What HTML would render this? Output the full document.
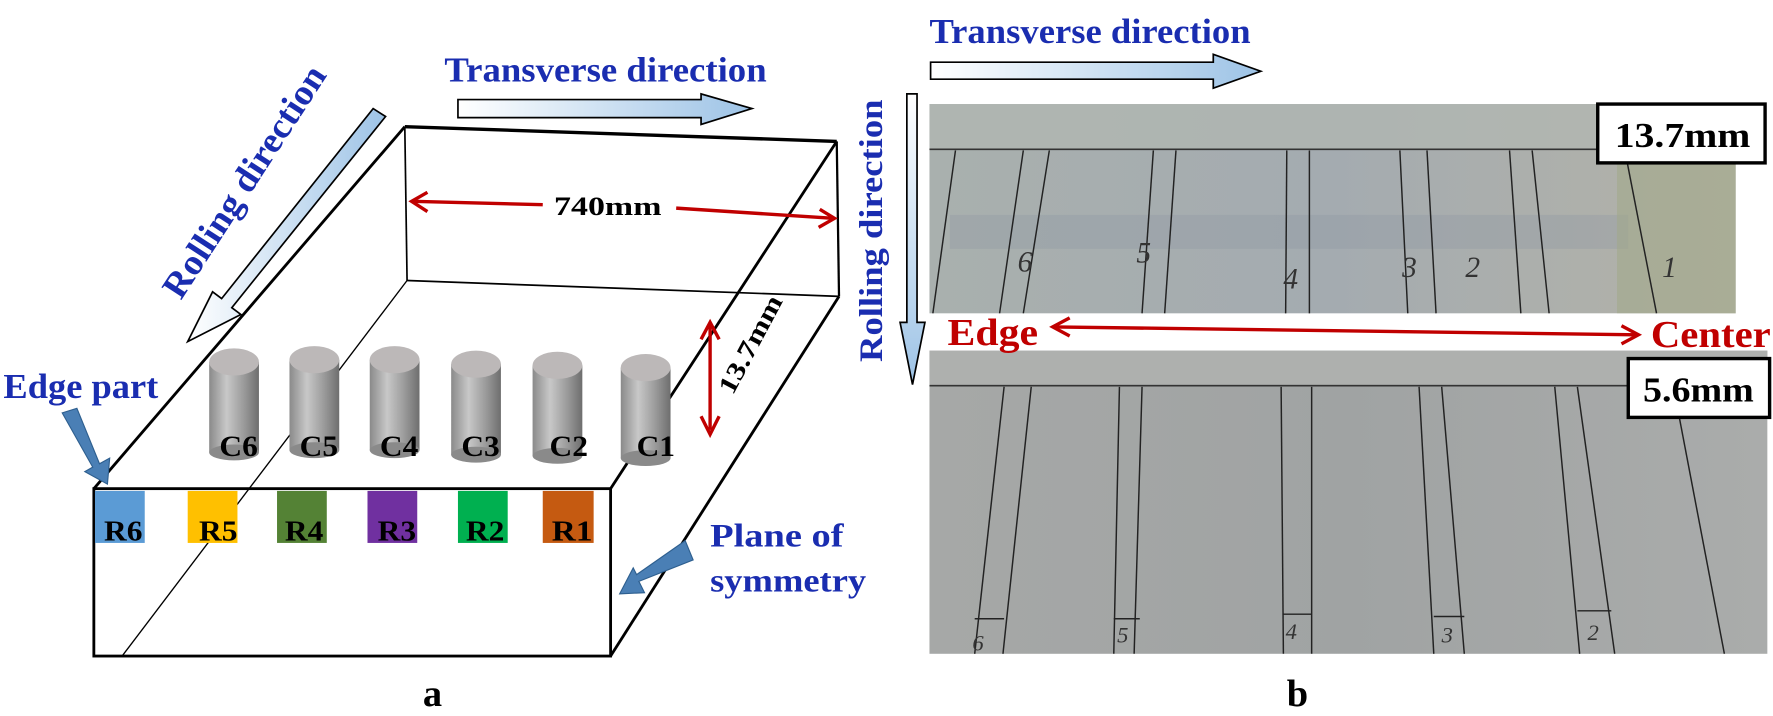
<!DOCTYPE html>
<html><head><meta charset="utf-8"><style>
html,body{margin:0;padding:0;background:#fff;}
svg{display:block;}
text{font-family:"Liberation Serif",serif;font-weight:bold;}
</style></head><body>
<svg width="1773" height="716" viewBox="0 0 1568 633" preserveAspectRatio="none" xmlns="http://www.w3.org/2000/svg">
<defs>
<linearGradient id="ga" x1="0" y1="0" x2="1" y2="0"><stop offset="0" stop-color="#fff"/><stop offset="1" stop-color="#9dc3e6"/></linearGradient>
<linearGradient id="gv" x1="0" y1="0" x2="0" y2="1"><stop offset="0" stop-color="#fff"/><stop offset="1" stop-color="#9dc3e6"/></linearGradient>
<linearGradient id="cyl" x1="0" y1="0" x2="1" y2="0"><stop offset="0" stop-color="#8a8a8a"/><stop offset="0.35" stop-color="#c8c8c8"/><stop offset="0.7" stop-color="#9a9a9a"/><stop offset="1" stop-color="#6e6e6e"/></linearGradient>
<linearGradient id="p1" x1="0" y1="0" x2="1" y2="0"><stop offset="0" stop-color="#a9b0ae"/><stop offset="0.5" stop-color="#a4abb0"/><stop offset="1" stop-color="#b4b3a8"/></linearGradient>
<linearGradient id="p2" x1="0" y1="0" x2="1" y2="0"><stop offset="0" stop-color="#a6a8a7"/><stop offset="0.5" stop-color="#a0a3a3"/><stop offset="1" stop-color="#aaacab"/></linearGradient>
</defs>

<text x="393" y="72" font-size="31" fill="#1a2db0" textLength="285" lengthAdjust="spacingAndGlyphs">Transverse direction</text>
<polygon points="405,88 620,88 620,83 665,96 620,110 620,104 405,104" fill="url(#ga)" stroke="#000" stroke-width="1.5"/>

<text x="0" y="0" font-size="32" fill="#1a2db0" transform="translate(160,266) rotate(-57)" textLength="238" lengthAdjust="spacingAndGlyphs">Rolling direction</text>
<polygon points="330,96 341,103 205,272 213,278 166,302 188,258 196,264" fill="url(#ga)" stroke="#000" stroke-width="1.5"/>

<g stroke="#000" fill="none">
<line x1="358" y1="112" x2="740" y2="125" stroke-width="3"/>
<line x1="358" y1="112" x2="360" y2="248" stroke-width="1.5"/>
<line x1="360" y1="248" x2="742" y2="262" stroke-width="1.5"/>
<line x1="740" y1="125" x2="742" y2="262" stroke-width="2"/>
<line x1="740" y1="125" x2="540" y2="432" stroke-width="2.5"/>
<line x1="742" y1="262" x2="540" y2="580" stroke-width="2.5"/>
<line x1="358" y1="112" x2="83" y2="432" stroke-width="2.5"/>
<line x1="360" y1="248" x2="108" y2="580" stroke-width="1.2"/>
<rect x="83" y="432" width="457" height="148" stroke-width="2.5"/>
</g>

<text x="490" y="190" font-size="23" fill="#000" textLength="95" lengthAdjust="spacingAndGlyphs">740mm</text>
<g stroke="#c00000" stroke-width="3" fill="none">
<line x1="365" y1="178" x2="480" y2="181"/>
<polyline points="378,170 364,178 378,187"/>
<line x1="598" y1="184" x2="737" y2="193"/>
<polyline points="725,185 738,193 724,201"/>
<line x1="628" y1="288" x2="628" y2="380"/>
<polyline points="620,300 628,285 636,300"/>
<polyline points="620,368 628,384 636,368"/>
</g>
<text x="0" y="0" font-size="23" fill="#000" transform="translate(648,350) rotate(-62)" textLength="95" lengthAdjust="spacingAndGlyphs">13.7mm</text>

<g>
<rect x="185" y="320" width="44" height="80" fill="url(#cyl)"/><ellipse cx="207" cy="400" rx="22" ry="7" fill="#8a8a8a"/><ellipse cx="207" cy="320" rx="22" ry="12" fill="#bcb8b8"/>
<rect x="256" y="318" width="44" height="80" fill="url(#cyl)"/><ellipse cx="278" cy="398" rx="22" ry="7" fill="#8a8a8a"/><ellipse cx="278" cy="318" rx="22" ry="12" fill="#bcb8b8"/>
<rect x="327" y="318" width="44" height="80" fill="url(#cyl)"/><ellipse cx="349" cy="398" rx="22" ry="7" fill="#8a8a8a"/><ellipse cx="349" cy="318" rx="22" ry="12" fill="#bcb8b8"/>
<rect x="399" y="322" width="44" height="80" fill="url(#cyl)"/><ellipse cx="421" cy="402" rx="22" ry="7" fill="#8a8a8a"/><ellipse cx="421" cy="322" rx="22" ry="12" fill="#bcb8b8"/>
<rect x="471" y="323" width="44" height="80" fill="url(#cyl)"/><ellipse cx="493" cy="403" rx="22" ry="7" fill="#8a8a8a"/><ellipse cx="493" cy="323" rx="22" ry="12" fill="#bcb8b8"/>
<rect x="549" y="325" width="44" height="80" fill="url(#cyl)"/><ellipse cx="571" cy="405" rx="22" ry="7" fill="#8a8a8a"/><ellipse cx="571" cy="325" rx="22" ry="12" fill="#bcb8b8"/>
</g>
<g font-size="26" fill="#000">
<text x="194" y="403" textLength="34" lengthAdjust="spacingAndGlyphs">C6</text><text x="265" y="403" textLength="34" lengthAdjust="spacingAndGlyphs">C5</text><text x="336" y="403" textLength="34" lengthAdjust="spacingAndGlyphs">C4</text>
<text x="408" y="403" textLength="34" lengthAdjust="spacingAndGlyphs">C3</text><text x="486" y="403" textLength="34" lengthAdjust="spacingAndGlyphs">C2</text><text x="563" y="403" textLength="34" lengthAdjust="spacingAndGlyphs">C1</text>
</g>

<rect x="84" y="434" width="44" height="46" fill="#5b9bd5"/>
<rect x="166" y="434" width="44" height="46" fill="#ffc000"/>
<rect x="245" y="434" width="44" height="46" fill="#548235"/>
<rect x="325" y="434" width="44" height="46" fill="#7030a0"/>
<rect x="405" y="434" width="44" height="46" fill="#00b050"/>
<rect x="480" y="434" width="45" height="46" fill="#c55a11"/>
<g font-size="25" fill="#000">
<text x="92" y="478" textLength="34" lengthAdjust="spacingAndGlyphs">R6</text><text x="176" y="478" textLength="34" lengthAdjust="spacingAndGlyphs">R5</text><text x="252" y="478" textLength="34" lengthAdjust="spacingAndGlyphs">R4</text>
<text x="334" y="478" textLength="34" lengthAdjust="spacingAndGlyphs">R3</text><text x="412" y="478" textLength="34" lengthAdjust="spacingAndGlyphs">R2</text><text x="488" y="478" textLength="36" lengthAdjust="spacingAndGlyphs">R1</text>
</g>

<text x="3" y="352" font-size="31" fill="#1a2db0" textLength="137" lengthAdjust="spacingAndGlyphs">Edge part</text>
<polygon points="55,365 68,361 88,410 97,405 95,428 75,417 82,413" fill="#4a7fb5" stroke="#2e5f8f" stroke-width="1"/>
<text x="628" y="483" font-size="29" fill="#1a2db0" textLength="118" lengthAdjust="spacingAndGlyphs">Plane of</text>
<text x="628" y="523" font-size="29" fill="#1a2db0" textLength="138" lengthAdjust="spacingAndGlyphs">symmetry</text>
<polygon points="606,478 613,495 565,514 570,524 548,525 560,502 563,508" fill="#4a7fb5" stroke="#2e5f8f" stroke-width="1"/>

<text x="374" y="624" font-size="34" fill="#000">a</text>
<text x="1138" y="624" font-size="34" fill="#000">b</text>

<text x="822" y="38" font-size="31" fill="#1a2db0" textLength="284" lengthAdjust="spacingAndGlyphs">Transverse direction</text>
<polygon points="823,55 1073,55 1073,48 1115,63 1073,78 1073,70 823,70" fill="url(#ga)" stroke="#000" stroke-width="1.5"/>
<text x="0" y="0" font-size="29" fill="#1a2db0" transform="translate(780,320) rotate(-90)" textLength="232" lengthAdjust="spacingAndGlyphs">Rolling direction</text>
<polygon points="802,83 811,83 811,285 818,285 807,340 796,285 802,285" fill="url(#gv)" stroke="#000" stroke-width="1.5"/>

<rect x="822" y="92" width="713" height="185" fill="url(#p1)"/>
<rect x="822" y="92" width="713" height="40" fill="#b2b8b2" opacity="0.7"/>
<rect x="840" y="190" width="600" height="30" fill="#8e98a4" opacity="0.35"/>
<rect x="1430" y="140" width="105" height="137" fill="#a2a88a" opacity="0.6"/>
<line x1="822" y1="132" x2="1535" y2="132" stroke="#333" stroke-width="1.5"/>
<g stroke="#222" stroke-width="1.3">
<line x1="845" y1="133" x2="825" y2="277"/>
<line x1="905" y1="133" x2="884" y2="277"/><line x1="928" y1="133" x2="905" y2="277"/>
<line x1="1020" y1="133" x2="1010" y2="277"/><line x1="1040" y1="133" x2="1030" y2="277"/>
<line x1="1138" y1="133" x2="1137" y2="277"/><line x1="1158" y1="133" x2="1158" y2="277"/>
<line x1="1238" y1="133" x2="1245" y2="277"/><line x1="1262" y1="133" x2="1270" y2="277"/>
<line x1="1335" y1="133" x2="1345" y2="277"/><line x1="1355" y1="133" x2="1370" y2="277"/>
<line x1="1437" y1="133" x2="1465" y2="277"/>
</g>
<g font-family="Liberation Sans,sans-serif" font-size="26" font-style="italic" fill="#333">
<text x="900" y="240" style="font-weight:normal">6</text><text x="1005" y="232" style="font-weight:normal">5</text>
<text x="1135" y="255" style="font-weight:normal">4</text><text x="1240" y="245" style="font-weight:normal">3</text>
<text x="1296" y="245" style="font-weight:normal">2</text><text x="1470" y="245" style="font-weight:normal">1</text>
</g>

<rect x="822" y="310" width="741" height="268" fill="url(#p2)"/>
<rect x="822" y="310" width="741" height="30" fill="#aeb0ae"/>
<line x1="822" y1="341" x2="1440" y2="341" stroke="#333" stroke-width="1.5"/>
<g stroke="#222" stroke-width="1.3">
<line x1="888" y1="342" x2="862" y2="578"/><line x1="912" y1="342" x2="887" y2="578"/>
<line x1="990" y1="342" x2="985" y2="578"/><line x1="1010" y1="342" x2="1003" y2="578"/>
<line x1="1133" y1="342" x2="1135" y2="578"/><line x1="1160" y1="342" x2="1160" y2="578"/>
<line x1="1255" y1="342" x2="1268" y2="578"/><line x1="1275" y1="342" x2="1295" y2="578"/>
<line x1="1375" y1="342" x2="1397" y2="578"/><line x1="1395" y1="342" x2="1428" y2="578"/>
<line x1="1480" y1="342" x2="1525" y2="578"/>
<line x1="862" y1="547" x2="888" y2="547"/><line x1="985" y1="547" x2="1008" y2="547"/>
<line x1="1135" y1="543" x2="1160" y2="543"/><line x1="1268" y1="545" x2="1295" y2="545"/>
<line x1="1395" y1="540" x2="1425" y2="540"/>
</g>
<g font-family="Liberation Sans,sans-serif" font-size="20" font-style="italic" fill="#333">
<text x="860" y="575" style="font-weight:normal">6</text><text x="988" y="568" style="font-weight:normal">5</text>
<text x="1137" y="565" style="font-weight:normal">4</text><text x="1275" y="568" style="font-weight:normal">3</text>
<text x="1404" y="566" style="font-weight:normal">2</text>
</g>

<rect x="1413" y="92" width="148" height="52" fill="#fff" stroke="#000" stroke-width="3"/>
<text x="1428" y="130" font-size="31" fill="#000" textLength="120" lengthAdjust="spacingAndGlyphs">13.7mm</text>
<rect x="1440" y="317" width="125" height="52" fill="#fff" stroke="#000" stroke-width="3"/>
<text x="1453" y="355" font-size="31" fill="#000" textLength="98" lengthAdjust="spacingAndGlyphs">5.6mm</text>

<text x="838" y="305" font-size="34" fill="#c00000" textLength="80" lengthAdjust="spacingAndGlyphs">Edge</text>
<text x="1460" y="307" font-size="34" fill="#c00000" textLength="106" lengthAdjust="spacingAndGlyphs">Center</text>
<g stroke="#c00000" stroke-width="3" fill="none">
<line x1="932" y1="289" x2="1448" y2="296"/>
<polyline points="946,281 931,289 946,297"/>
<polyline points="1434,288 1449,296 1434,304"/>
</g>
</svg>
</body></html>
